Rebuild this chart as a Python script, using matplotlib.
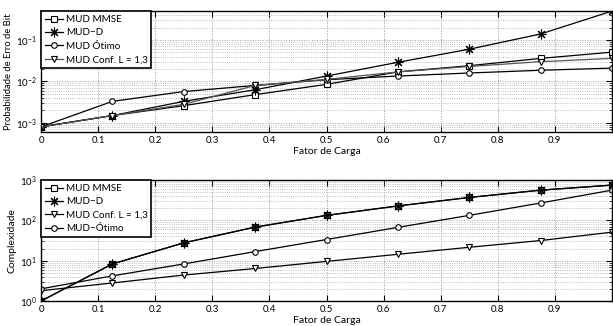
import numpy as np
import matplotlib.pyplot as plt
from matplotlib.ticker import LogLocator, NullFormatter

plt.rcParams['font.family'] = ['Lato', 'DejaVu Sans']
plt.rcParams['mathtext.fontset'] = 'custom'
plt.rcParams['mathtext.rm'] = 'Lato'

# Fator de carga (eixo x comum)
carga = [0, 0.125, 0.25, 0.375, 0.5, 0.625, 0.75, 0.875, 1.0]

# Probabilidade de erro de bit
ber_mmse = [8e-4, 1.5e-3, 2.6e-3, 4.8e-3, 8.5e-3, 1.7e-2, 2.4e-2, 3.6e-2, 5.1e-2]
ber_mud_d = [8e-4, 1.5e-3, 3.3e-3, 6.3e-3, 1.35e-2, 2.9e-2, 6.0e-2, 1.4e-1, 5.0e-1]
ber_otimo = [8e-4, 3.3e-3, 5.7e-3, 8.0e-3, 1.1e-2, 1.35e-2, 1.6e-2, 1.86e-2, 2.1e-2]
ber_conf = [8e-4, 1.5e-3, 2.8e-3, 8.0e-3, 1.12e-2, 1.7e-2, 2.3e-2, 3.0e-2, 3.6e-2]

# Complexidade
cx_mmse = [1.0, 8.3, 27.7, 68, 133, 228, 370, 562, 750]
cx_mud_d = [1.0, 8.3, 27.7, 68, 133, 228, 370, 562, 750]
cx_conf = [1.8, 2.8, 4.4, 6.4, 9.6, 14.4, 21.5, 31.6, 51]
cx_otimo = [2.0, 4.2, 8.3, 16.8, 33.5, 67, 133, 270, 562]

star = (8, 2, 0)
estilo = dict(linewidth=0.9, markersize=4, markerfacecolor='white',
              markeredgewidth=0.8)

fig = plt.figure(figsize=(6.13, 3.26), dpi=100)
ax1 = fig.add_axes([0.0669, 0.595, 0.9315, 0.371])
ax2 = fig.add_axes([0.0669, 0.0767, 0.9315, 0.371])

ax1.semilogy(carga, ber_mmse, '-s', color='black', label='MUD MMSE', **estilo)
ax1.semilogy(carga, ber_mud_d, '-', marker=star, color='black', label='MUD\u2212D',
             linewidth=0.9, markersize=7, markeredgewidth=0.8)
ax1.semilogy(carga, ber_otimo, '-o', color='black', label='MUD Ótimo', **estilo)
ax1.semilogy(carga, ber_conf, '-v', color='#555555', mec='black',
             label='MUD Conf. L = 1,3', **estilo)
ax1.set_ylim(6e-4, 0.5)
ax1.set_ylabel('Probabilidade de Erro de Bit', fontsize=6.8, labelpad=2)

ax2.semilogy(carga, cx_mmse, '-s', color='black', label='MUD MMSE', **estilo)
ax2.semilogy(carga, cx_mud_d, '-', marker=star, color='black', label='MUD\u2212D',
             linewidth=0.9, markersize=7, markeredgewidth=0.8)
ax2.semilogy(carga, cx_conf, '-v', color='black', label='MUD Conf. L = 1,3', **estilo)
ax2.semilogy(carga, cx_otimo, '-o', color='black', label='MUD\u2212Ótimo', **estilo)
ax2.set_ylim(1, 1000)
ax2.set_ylabel('Complexidade', fontsize=7.5, labelpad=2)

for ax in (ax1, ax2):
    ax.set_xlim(0, 1)
    ax.set_xticks(np.arange(0, 1.0, 0.1))
    ax.set_xticklabels(['0'] + ['%.1f' % v for v in np.arange(0.1, 1.0, 0.1)])
    ax.yaxis.set_major_locator(LogLocator(base=10, numticks=10))
    ax.yaxis.set_minor_locator(LogLocator(base=10, subs=np.arange(2, 10), numticks=20))
    ax.yaxis.set_minor_formatter(NullFormatter())
    ax.grid(True, which='major', linestyle=':', color='#999999', linewidth=0.7)
    ax.grid(True, which='minor', axis='y', linestyle=':', color='#aaaaaa', linewidth=0.6)
    ax.tick_params(which='both', direction='in', top=True, right=True,
                   labelsize=7, pad=3)
    ax.tick_params(which='major', length=4, width=0.8)
    ax.tick_params(which='minor', length=2, width=0.5)
    for s in ax.spines.values():
        s.set_linewidth(1.0)
    ax.set_xlabel('Fator de Carga', fontsize=7.5, labelpad=1)
    leg = ax.legend(loc='upper left', fontsize=7.1, frameon=True, fancybox=False,
                    borderaxespad=0.0, handlelength=1.8, handletextpad=0.3,
                    labelspacing=0.45, borderpad=0.4)
    leg.get_frame().set_edgecolor('black')
    leg.get_frame().set_linewidth(1.2)
    leg.get_frame().set_alpha(1)

fig.savefig('out.png', dpi=100)
